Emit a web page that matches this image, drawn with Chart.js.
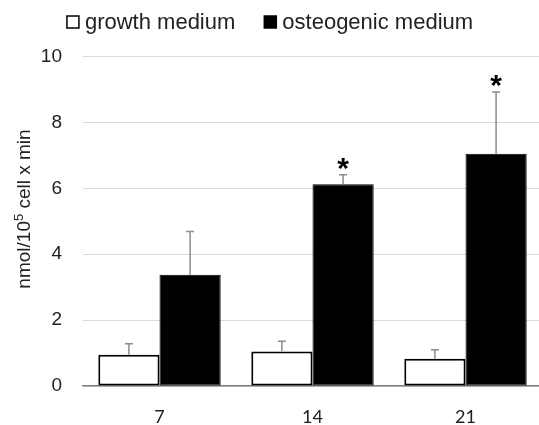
<!DOCTYPE html>
<html>
<head>
<meta charset="utf-8">
<script src="https://cdn.jsdelivr.net/npm/chart.js@4/dist/chart.umd.min.js"></script>
<style>
  html, body { margin: 0; padding: 0; background: #fff; overflow: hidden; }
  #wrap { width: 539px; height: 425px; overflow: hidden; }
</style>
</head>
<body>
<div id="wrap"><canvas id="c" width="542" height="425"></canvas></div>
<script>
// Days of culture
const days = ['7', '14', '21'];
// Mean activity (nmol/10^5 cell x min)
const growthMedium = [0.95, 1.05, 0.83];
const growthErr = [0.33, 0.31, 0.27];
const osteogenicMedium = [3.38, 6.12, 7.05];
const osteogenicErr = [1.31, 0.29, 1.87];
// Significance markers for the osteogenic series
const osteogenicSig = ['', '*', '*'];
const yTicks = [0, 2, 4, 6, 8, 10];

const errors = [growthErr, osteogenicErr];
const marks = [null, osteogenicSig];
const FONT = '"Liberation Sans", Arial, sans-serif';

// Upper error whiskers with caps, plus significance stars
const errorBars = {
  id: 'errorBars',
  afterDatasetsDraw(chart) {
    const ctx = chart.ctx;
    const y = chart.scales.y;
    chart.data.datasets.forEach((ds, d) => {
      const meta = chart.getDatasetMeta(d);
      meta.data.forEach((el, i) => {
        const top = y.getPixelForValue(ds.data[i] + errors[d][i]);
        ctx.save();
        ctx.strokeStyle = '#8c8c8c';
        ctx.lineWidth = 1.5;
        ctx.beginPath();
        ctx.moveTo(el.x, el.y);
        ctx.lineTo(el.x, top);
        ctx.moveTo(el.x - 4, top);
        ctx.lineTo(el.x + 4, top);
        ctx.stroke();
        if (marks[d] && marks[d][i]) {
          ctx.fillStyle = '#000';
          ctx.font = 'bold 30px ' + FONT;
          ctx.textAlign = 'center';
          ctx.textBaseline = 'alphabetic';
          ctx.fillText(marks[d][i], el.x, top + 3);
        }
        ctx.restore();
      });
    });
  }
};

// Rotated y-axis title with a superscript exponent
const yTitle = {
  id: 'yTitle',
  afterDraw(chart) {
    const ctx = chart.ctx;
    const big = '19px ' + FONT;
    const small = '13px ' + FONT;
    const a = 'nmol/10', s = '5', b = ' cell x min';
    ctx.save();
    ctx.font = big; const wa = ctx.measureText(a).width, wb = ctx.measureText(b).width;
    ctx.font = small; const ws = ctx.measureText(s).width;
    const total = wa + ws + wb;
    ctx.translate(25, 209);
    ctx.rotate(-Math.PI / 2);
    ctx.fillStyle = '#222';
    ctx.textBaseline = 'middle';
    ctx.textAlign = 'left';
    let x = -total / 2;
    ctx.font = big; ctx.fillText(a, x, 0); x += wa;
    ctx.font = small; ctx.fillText(s, x, -6); x += ws;
    ctx.font = big; ctx.fillText(b, x, 0);
    ctx.restore();
  }
};

// Legend row: square swatch followed by the series name
const legendRow = {
  id: 'legendRow',
  afterDraw(chart) {
    const ctx = chart.ctx;
    const box = 12, gapText = 6, gapItem = 29, cy = 22, cx = 270;
    ctx.save();
    ctx.font = '22px ' + FONT;
    const items = chart.data.datasets.map(ds => ({ ds, w: ctx.measureText(ds.label).width }));
    const total = items.reduce((s, it) => s + box + gapText + it.w, 0) + gapItem * (items.length - 1);
    let x = cx - total / 2;
    items.forEach(({ ds, w }) => {
      ctx.fillStyle = ds.backgroundColor;
      ctx.fillRect(x, cy - box / 2, box, box);
      ctx.strokeStyle = '#000';
      ctx.lineWidth = 1.5;
      ctx.strokeRect(x, cy - box / 2, box, box);
      ctx.fillStyle = '#222';
      ctx.textAlign = 'left';
      ctx.textBaseline = 'middle';
      ctx.fillText(ds.label, x + box + gapText, cy + 1);
      x += box + gapText + w + gapItem;
    });
    ctx.restore();
  }
};

new Chart(document.getElementById('c'), {
  type: 'bar',
  data: {
    labels: days,
    datasets: [
      {
        label: 'growth medium',
        data: growthMedium,
        backgroundColor: '#ffffff',
        borderColor: '#000000',
        borderWidth: 2,
        borderSkipped: false
      },
      {
        label: 'osteogenic medium',
        data: osteogenicMedium,
        backgroundColor: '#000000',
        borderColor: '#000000',
        borderWidth: 1,
        borderSkipped: false
      }
    ]
  },
  options: {
    responsive: false,
    animation: false,
    layout: { padding: { left: 0, right: 0, top: 56.5, bottom: 0.5 } },
    datasets: { bar: { categoryPercentage: 0.8, barPercentage: 1.0 } },
    plugins: {
      tooltip: { enabled: false },
      legend: { display: false }
    },
    scales: {
      x: {
        afterFit(axis) { axis.height = 38.5; },
        grid: { display: false },
        border: { display: true, color: '#7f7f7f', width: 1.5 },
        ticks: {
          padding: 14,
          color: '#222',
          font: { family: 'Lato, "Liberation Sans", sans-serif', size: 18, lineHeight: 1 }
        }
      },
      y: {
        min: 0,
        max: 10,
        afterFit(axis) { axis.width = 83; },
        afterBuildTicks(axis) { axis.ticks = yTicks.map(v => ({ value: v })); },
        grid: { color: '#d9d9d9', lineWidth: 1, drawTicks: false },
        border: { display: false },
        ticks: {
          padding: 21,
          color: '#222',
          font: { family: FONT, size: 19 }
        }
      }
    }
  },
  plugins: [errorBars, yTitle, legendRow]
});
</script>
</body>
</html>
